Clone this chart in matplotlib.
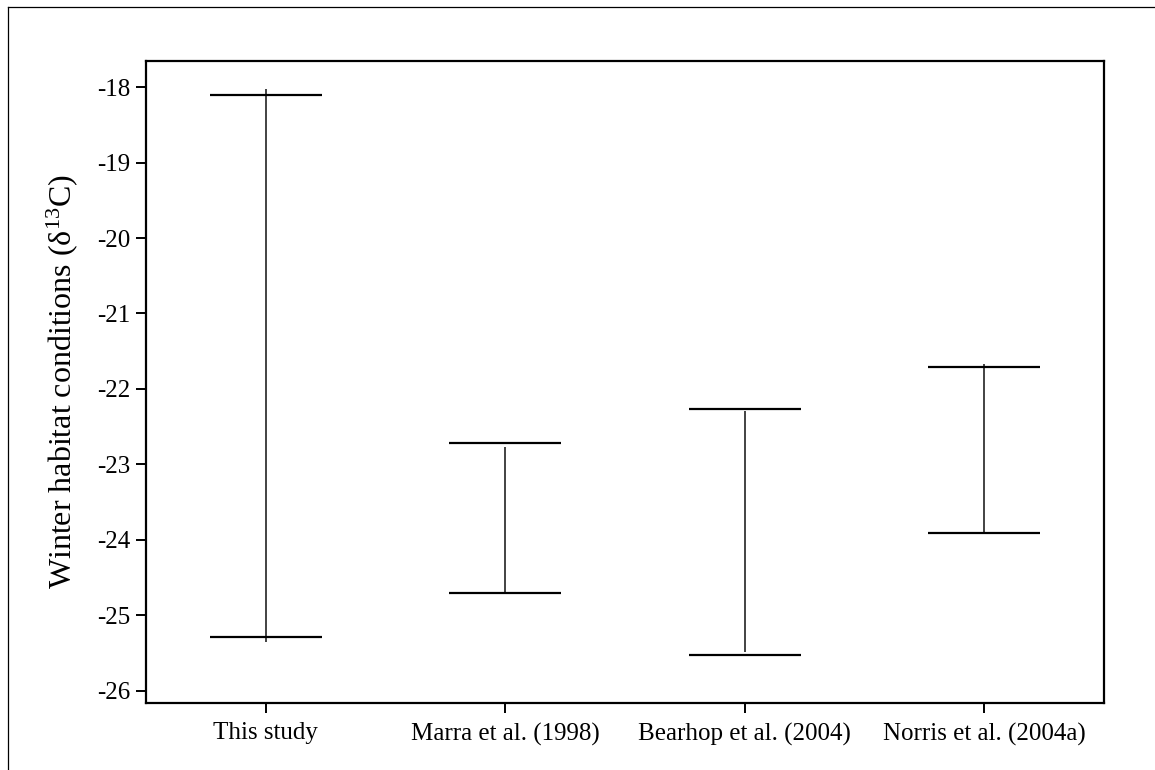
import matplotlib
matplotlib.use("Agg")
import matplotlib.pyplot as plt
from matplotlib.lines import Line2D

# Data
studies = ["This study", "Marra et al. (1998)", "Bearhop et al. (2004)", "Norris et al. (2004a)"]
cap_high = [-18.10, -22.71, -22.27, -21.71]
cap_low = [-25.29, -24.70, -25.53, -23.91]
line_high = [-18.03, -22.77, -22.29, -21.67]
line_low = [-25.35, -24.70, -25.48, -23.91]
yticks = [-18, -19, -20, -21, -22, -23, -24, -25, -26]

plt.rcParams['font.family'] = ['Liberation Serif', 'DejaVu Serif']
plt.rcParams['mathtext.fontset'] = 'custom'
plt.rcParams['mathtext.rm'] = 'Liberation Serif'
plt.rcParams['mathtext.it'] = 'Liberation Serif:italic'
plt.rcParams['mathtext.bf'] = 'Liberation Serif:bold'

W, H = 1155, 770
fig = plt.figure(figsize=(W / 100, H / 100), dpi=100)
fig.patch.set_facecolor('white')

ax = fig.add_axes([146 / W, 1 - 703 / H, (1104 - 146) / W, (703 - 61) / H])

x = list(range(len(studies)))
half = 0.234
ax.vlines(x, line_low, line_high, colors='#222222', linewidth=1.2)
ax.hlines(cap_high, [xi - half for xi in x], [xi + half for xi in x], colors='black', linewidth=1.6)
ax.hlines(cap_low, [xi - half for xi in x], [xi + half for xi in x], colors='black', linewidth=1.6)

ax.set_xlim(-0.5, len(studies) - 0.5)
ax.set_ylim(-26.16, -17.655)
ax.set_xticks(x)
ax.set_xticklabels(studies, fontsize=18)
ax.set_yticks(yticks)
ax.set_yticklabels([str(v) for v in yticks], fontsize=18)
ax.tick_params(axis='both', direction='out', length=7, width=1.4, color='black')
ax.tick_params(axis='x', pad=7)
ax.tick_params(axis='y', pad=4)
for s in ax.spines.values():
    s.set_linewidth(1.6)
    s.set_color('black')

ax.set_ylabel(r"Winter habitat conditions (δ$^{\mathrm{13}}$C)", fontsize=23)
ax.yaxis.set_label_coords((80 - 146) / 958, 0.5)

# Outer frame lines (top and left)
fig.add_artist(Line2D([8 / W, 1.0], [1 - 7 / H, 1 - 7 / H], transform=fig.transFigure, color='black', linewidth=0.9))
fig.add_artist(Line2D([8 / W, 8 / W], [0.0, 1 - 7 / H], transform=fig.transFigure, color='black', linewidth=0.9))

fig.savefig("out.png", dpi=100, facecolor='white')
